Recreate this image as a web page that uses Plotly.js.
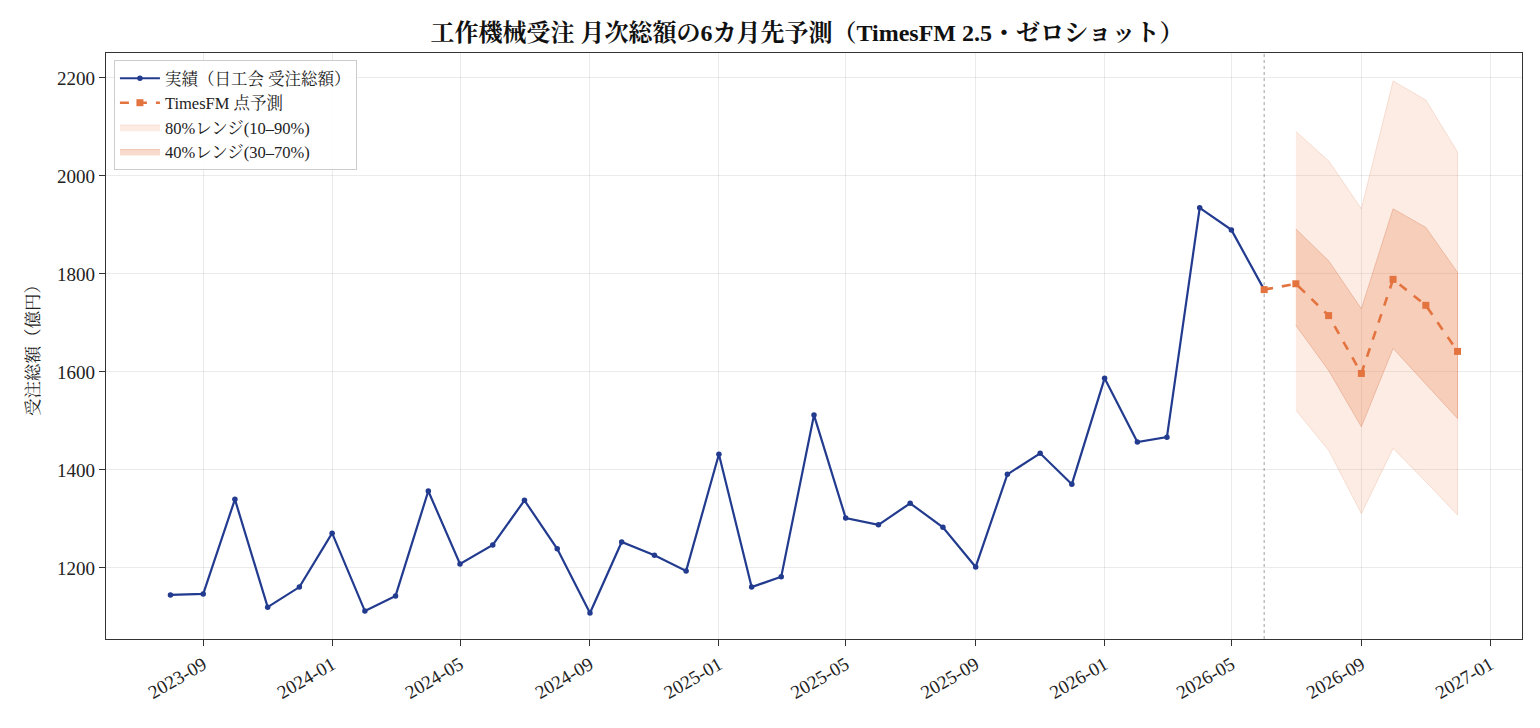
<!DOCTYPE html>
<html>
<head>
<meta charset="utf-8">
<script src="https://cdn.plot.ly/plotly-3.0.1.min.js"></script>
<style>html,body{margin:0;padding:0;background:#fff;}#chart{width:1540px;height:728px;}</style>
</head>
<body>
<div id="chart"></div>
<script>
const actualDates = ['2023-08-01','2023-09-01','2023-10-01','2023-11-01','2023-12-01',
  '2024-01-01','2024-02-01','2024-03-01','2024-04-01','2024-05-01','2024-06-01','2024-07-01','2024-08-01','2024-09-01','2024-10-01','2024-11-01','2024-12-01',
  '2025-01-01','2025-02-01','2025-03-01','2025-04-01','2025-05-01','2025-06-01','2025-07-01','2025-08-01','2025-09-01','2025-10-01','2025-11-01','2025-12-01',
  '2026-01-01','2026-02-01','2026-03-01','2026-04-01','2026-05-01','2026-06-01'];
const actualValues = [1145,1147,1340,1120,1161,
  1271,1112,1143,1357,1208,1247,1338,1239,1108,1253,1226,1194,
  1432,1161,1182,1512,1302,1288,1332,1283,1202,1391,1434,1371,
  1587,1457,1467,1935,1890,1768];

const fcDates = ['2026-06-01','2026-07-01','2026-08-01','2026-09-01','2026-10-01','2026-11-01','2026-12-01'];
const fcValues = [1768,1780,1715,1597,1789,1736,1642];

const bandDates = ['2026-07-01','2026-08-01','2026-09-01','2026-10-01','2026-11-01','2026-12-01'];
const q10 = [1522,1440,1311,1444,1376,1308];
const q90 = [2091,2031,1933,2194,2155,2049];
const q30 = [1695,1603,1488,1648,1576,1505];
const q70 = [1892,1827,1729,1933,1895,1803];

const cutoffDate = '2026-06-01';

const xTickVals = ['2023-09-01','2024-01-01','2024-05-01','2024-09-01','2025-01-01','2025-05-01','2025-09-01','2026-01-01','2026-05-01','2026-09-01','2027-01-01'];
const xTickText = ['2023-09','2024-01','2024-05','2024-09','2025-01','2025-05','2025-09','2026-01','2026-05','2026-09','2027-01'];
const yTickVals = [1200,1400,1600,1800,2000,2200];

const FONT = "'Liberation Serif', 'Noto Serif CJK JP', 'Noto Sans CJK JP', serif";

function poly(xs, lo, hi){
  return {x: xs.concat(xs.slice().reverse()), y: hi.concat(lo.slice().reverse())};
}
const b80 = poly(bandDates, q10, q90);
const b40 = poly(bandDates, q30, q70);

const traces = [
  {x: b80.x, y: b80.y, type:'scatter', mode:'lines', fill:'toself',
   fillcolor:'rgba(240,150,105,0.18)', line:{color:'rgba(225,130,90,0.22)', width:1},
   name:'80%レンジ(10–90%)', legendrank:3, hoverinfo:'skip'},
  {x: b40.x, y: b40.y, type:'scatter', mode:'lines', fill:'toself',
   fillcolor:'rgba(235,135,90,0.30)', line:{color:'rgba(215,120,80,0.35)', width:1},
   name:'40%レンジ(30–70%)', legendrank:4, hoverinfo:'skip'},
  {x: actualDates, y: actualValues, type:'scatter', mode:'lines+markers',
   line:{color:'#223b8f', width:2.2}, marker:{color:'#223b8f', size:5.5, symbol:'circle'},
   name:'実績（日工会 受注総額）', legendrank:1},
  {x: fcDates, y: fcValues, type:'scatter', mode:'lines+markers',
   line:{color:'#e3733f', width:2.6, dash:'dash'}, marker:{color:'#e3733f', size:7, symbol:'square'},
   name:'TimesFM 点予測', legendrank:2}
];

const layout = {
  width:1540, height:728,
  margin:{l:106, r:18, t:53, b:89},
  paper_bgcolor:'#fff', plot_bgcolor:'#fff',
  font:{family:FONT, size:16, color:'#222'},
  title:{text:'<b>工作機械受注 月次総額の6カ月先予測（TimesFM 2.5・ゼロショット）</b>',
    font:{family:FONT, size:24, color:'#111'}, x:0.524, xanchor:'center', y:0.955, yanchor:'middle'},
  xaxis:{type:'date', range:['2023-06-01','2027-01-31'],
    tickvals:xTickVals, ticktext:xTickText, tickangle:-30,
    showgrid:true, gridcolor:'rgba(0,0,0,0.08)', gridwidth:1,
    showline:true, linecolor:'#333', linewidth:1.3, mirror:true,
    ticks:'outside', ticklen:6, tickcolor:'#333', tickfont:{size:19, family:FONT, color:'#222'},
    zeroline:false},
  yaxis:{range:[1055,2251], tickvals:yTickVals,
    showgrid:true, gridcolor:'rgba(0,0,0,0.08)', gridwidth:1,
    showline:true, linecolor:'#333', linewidth:1.3, mirror:true,
    ticks:'outside', ticklen:6, tickcolor:'#333', tickfont:{size:19, family:FONT, color:'#222'},
    title:{text:'受注総額（億円）', font:{size:17.5, family:FONT, color:'#222'}, standoff:12},
    zeroline:false},
  shapes:[{type:'line', xref:'x', yref:'paper', x0:cutoffDate, x1:cutoffDate, y0:0, y1:1,
    line:{color:'rgba(120,120,120,0.7)', width:1, dash:'dot'}, layer:'below'}],
  legend:{x:0.0056, y:0.988, xanchor:'left', yanchor:'top',
    bgcolor:'rgba(255,255,255,0.9)', bordercolor:'#ccc', borderwidth:1,
    font:{size:16.5, family:FONT, color:'#222'}, tracegroupgap:0, itemwidth:40},
  showlegend:true
};

Plotly.newPlot('chart', traces, layout, {staticPlot:true, displayModeBar:false});
</script>
</body>
</html>
